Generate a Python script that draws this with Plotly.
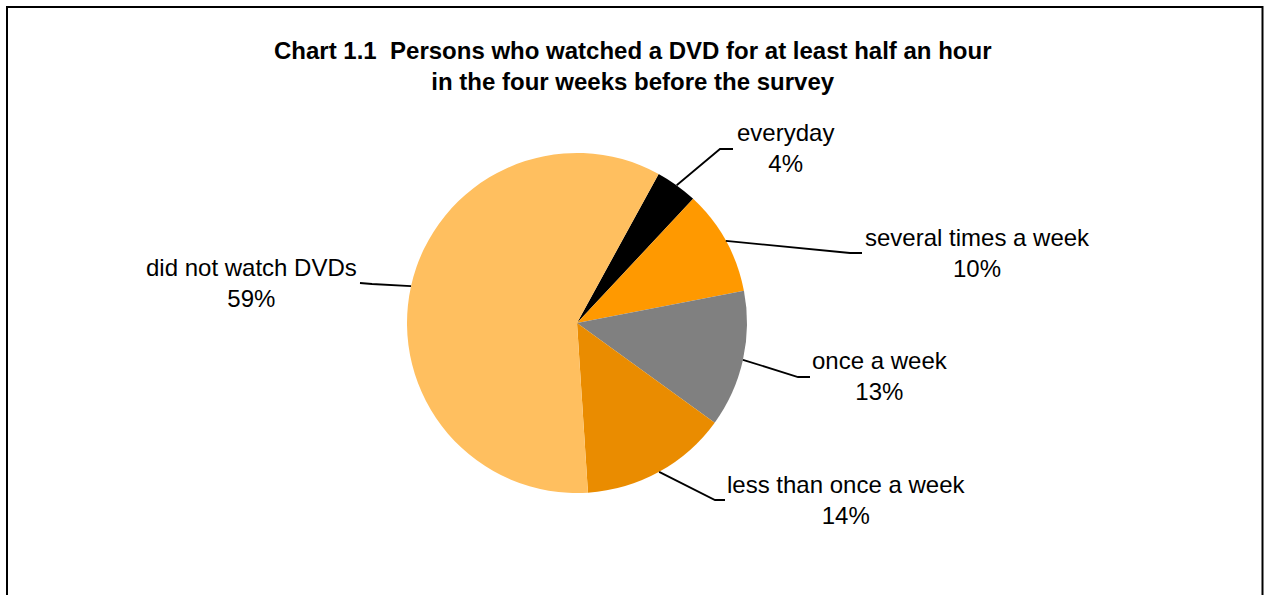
import math
import plotly.graph_objects as go

# Frequency of DVD watching (percent of persons)
categories = ["everyday", "several times a week", "once a week",
              "less than once a week", "did not watch DVDs"]
shares = [4, 10, 13, 14, 59]
colors = ["#000000", "#FF9900", "#808080", "#EA8C00", "#FFBF5F"]

W, H = 1264, 595
CX, CY, R = 577, 323, 170          # pie centre and radius in pixels
START = 28.7                        # clockwise angle of first slice from 12 o'clock

# label centre (px) and leader-line elbow / end points (px)
label_pos = [(785, 148), (977, 253), (880, 376), (846, 500), (251, 283)]
elbows = [((720, 149), (733, 149)),
          ((850, 253), (862, 253)),
          ((798, 377), (810, 377)),
          ((715, 500), (725, 500)),
          ((372, 284), (360, 283))]


def px(x):
    return x / W


def py(y):
    return 1 - y / H


fig = go.Figure(go.Pie(
    labels=categories,
    values=shares,
    sort=False,
    direction="clockwise",
    rotation=START,
    marker=dict(colors=colors, line=dict(width=0)),
    textinfo="none",
    hoverinfo="label+percent",
    showlegend=False,
    domain=dict(x=[px(CX - R), px(CX + R)], y=[py(CY + R), py(CY - R)]),
))

total = sum(shares)
acc = 0.0
shapes = []
annotations = []
for name, val, (lx, ly), (elb, end) in zip(categories, shares, label_pos, elbows):
    mid = math.radians(START + (acc + val / 2) / total * 360)
    acc += val
    sx = CX + R * math.sin(mid)
    sy = CY - R * math.cos(mid)
    path = f"M {px(sx)},{py(sy)} L {px(elb[0])},{py(elb[1])} L {px(end[0])},{py(end[1])}"
    shapes.append(dict(type="path", xref="paper", yref="paper", path=path,
                       line=dict(color="#000000", width=1.8)))
    pct = round(val / total * 100)
    annotations.append(dict(
        x=px(lx), y=py(ly), xref="paper", yref="paper",
        text=f"{name}<br>{pct}%", showarrow=False, align="center",
        xanchor="center", yanchor="middle",
        font=dict(family="Liberation Sans, Arial, sans-serif", size=24, color="#000000"),
    ))

# outer chart frame
shapes.append(dict(type="rect", xref="paper", yref="paper",
                   x0=px(7), x1=px(1262.5), y0=py(605), y1=py(7),
                   line=dict(color="#000000", width=2), fillcolor="rgba(0,0,0,0)"))

annotations.append(dict(
    x=px(633), y=py(66), xref="paper", yref="paper", showarrow=False,
    text="<b>Chart 1.1  Persons who watched a DVD for at least half an hour<br>"
         "in the four weeks before the survey</b>",
    align="center", xanchor="center", yanchor="middle",
    font=dict(family="Liberation Sans, Arial, sans-serif", size=24, color="#000000"),
))

fig.update_layout(
    width=W, height=H,
    margin=dict(l=0, r=0, t=0, b=0),
    paper_bgcolor="#FFFFFF",
    plot_bgcolor="#FFFFFF",
    shapes=shapes,
    annotations=annotations,
)

fig.write_html("out.html", config={"displayModeBar": False})
